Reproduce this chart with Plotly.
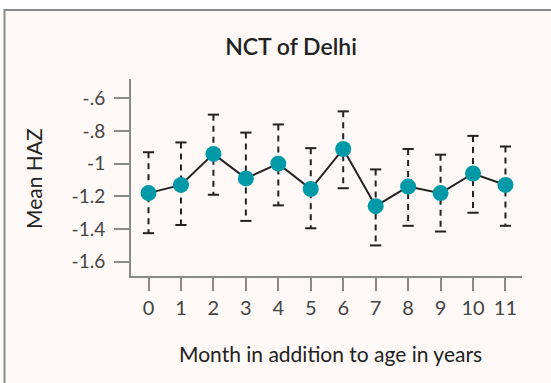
import plotly.graph_objects as go

months = list(range(12))
mean_haz = [-1.18, -1.13, -0.94, -1.09, -1.00, -1.155, -0.91, -1.26, -1.14, -1.18, -1.06, -1.13]
upper_ci = [-0.93, -0.87, -0.70, -0.81, -0.76, -0.905, -0.68, -1.035, -0.91, -0.945, -0.83, -0.895]
lower_ci = [-1.425, -1.375, -1.19, -1.35, -1.255, -1.395, -1.15, -1.50, -1.38, -1.415, -1.30, -1.38]
y_tickvals = [-0.6, -0.8, -1.0, -1.2, -1.4, -1.6]
y_ticktext = ["-.6", "-.8", "-1", "-1.2", "-1.4", "-1.6"]
title_text = "NCT of Delhi"
x_title = "Month in addition to age in years"
y_title = "Mean HAZ"

FONT = "Lato"
DARK = "#222222"
TEAL = "#0099A8"
GRAY = "#8a8a8a"
BG = "#fef9f6"

W, H = 551, 383
ML, MR, MT, MB = 131, 29, 79, 107
PW, PH = W - ML - MR, H - MT - MB

def px_x(p):
    return (p - ML) / PW

def px_y(p):
    return (H - MB - p) / PH

fig = go.Figure()

# dashed error bars
ex, ey = [], []
for m, lo, hi in zip(months, lower_ci, upper_ci):
    ex += [m, m, None]
    ey += [hi, lo, None]
fig.add_trace(go.Scatter(x=ex, y=ey, mode="lines",
                         line=dict(color=DARK, width=2, dash="6px,5px"),
                         hoverinfo="skip", showlegend=False))
# caps
fig.add_trace(go.Scatter(x=months + months, y=lower_ci + upper_ci, mode="markers",
                         marker=dict(symbol="line-ew", size=8,
                                     line=dict(color=DARK, width=2)),
                         hoverinfo="skip", showlegend=False))
# mean line
fig.add_trace(go.Scatter(x=months, y=mean_haz, mode="lines",
                         line=dict(color=DARK, width=2), showlegend=False))
# markers
fig.add_trace(go.Scatter(x=months, y=mean_haz, mode="markers",
                         marker=dict(color=TEAL, size=16, line=dict(width=0)),
                         showlegend=False))

# frame
fig.add_shape(type="rect", xref="paper", yref="paper",
              x0=px_x(4.5), x1=px_x(W + 10), y0=px_y(H + 10), y1=px_y(10),
              fillcolor=BG, line=dict(color=GRAY, width=2), layer="below")

fig.add_annotation(text=y_title, xref="paper", yref="paper",
                   x=px_x(33), y=px_y(179), textangle=-90, showarrow=False,
                   xanchor="center", yanchor="middle",
                   font=dict(family=FONT, size=21, color=DARK, weight=400))
fig.add_annotation(text=x_title, xref="paper", yref="paper",
                   x=px_x(330), y=px_y(353), showarrow=False,
                   xanchor="center", yanchor="middle",
                   font=dict(family=FONT, size=21, color=DARK, weight=400))

fig.update_layout(
    width=W, height=H,
    margin=dict(l=ML, r=MR, t=MT, b=MB, pad=0),
    paper_bgcolor="white",
    plot_bgcolor="rgba(0,0,0,0)",
    font=dict(family=FONT),
    title=dict(text=title_text, xref="container", yref="container",
               x=291 / W, y=1 - 47 / H, xanchor="center", yanchor="middle",
               font=dict(family=FONT, size=23, color=DARK, weight=600)),
    xaxis=dict(range=[-0.54, 11.51], tickvals=months, ticktext=[str(m) for m in months],
               showgrid=False, zeroline=False, showline=True, linecolor=GRAY, linewidth=2,
               ticks="outside", ticklen=13, tickcolor=GRAY, tickwidth=1.5,
               tickfont=dict(family=FONT, size=20, color="#444444", weight=400)),
    yaxis=dict(range=[-1.687, -0.482], tickvals=y_tickvals, ticktext=y_ticktext,
               showgrid=False, zeroline=False, showline=True, linecolor=GRAY, linewidth=2,
               ticks="outside", ticklen=15, tickcolor=GRAY, tickwidth=1.5,
               ticklabelstandoff=5,
               tickfont=dict(family=FONT, size=19, color="#444444", weight=400)),
)

fig.write_html("out.html", config={"displayModeBar": False},
               post_script="document.body.style.margin='0px';")
